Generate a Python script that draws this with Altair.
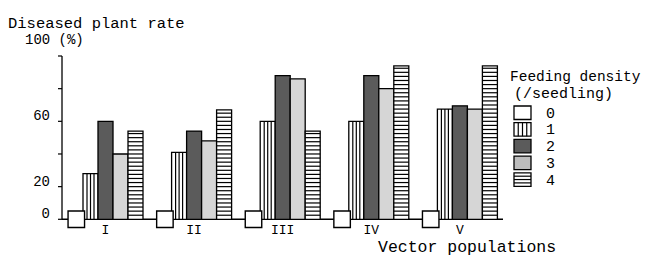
import altair as alt
import pandas as pd

# ---- data ----
groups = ["I", "II", "III", "IV", "V"]
densities = ["0", "1", "2", "3", "4"]
d0 = [0, 0, 0, 0, 0]
d1 = [28, 41, 60, 60, 67.5]
d2 = [60, 54, 88, 88, 69.5]
d3 = [40, 48, 86, 80, 67.5]
d4 = [54, 67, 54, 94, 94]
y_ticks = [0, 20, 40, 60, 80, 100]
y_labels = [0, 20, 60]

# ---- layout constants ----
W, H = 441, 163.3
PITCH = 88.6
BAR_W = 15
FIRST = 21
FONT = "Liberation Mono"
series = [d0, d1, d2, d3, d4]

rows = []
for g, name in enumerate(groups):
    for k in range(5):
        left = g * PITCH + FIRST + (k - 1) * BAR_W
        rows.append(dict(group=name, density=densities[k], value=series[k][g],
                         left=left, right=left + BAR_W, cx=g * PITCH + 14.3,
                         lx=g * PITCH + FIRST + 1.5 * BAR_W))
df = pd.DataFrame(rows)
bars_df = df[df.density != "0"]
zero_df = df[df.density == "0"]
lab_df = zero_df[["group", "lx"]]

# decorative stripe patterns (vertical for density 1, horizontal for density 4)
vrows = []
for _, r in df[df.density == "1"].iterrows():
    for off in (4.0, 7.5, 11.0):
        vrows.append(dict(x=r.left + off, value=r.value))
vdf = pd.DataFrame(vrows)
hrows = []
for _, r in df[df.density == "4"].iterrows():
    lev = 2.5
    while lev < r.value - 1:
        hrows.append(dict(left=r.left, right=r.right, level=lev))
        lev += 2.5
hdf = pd.DataFrame(hrows)

xs = alt.Scale(domain=[0, W], nice=False, zero=False)
ys = alt.Scale(domain=[0, 100], nice=False)
fill_scale = alt.Scale(domain=densities[1:], range=["white", "#5b5b5b", "#d6d6d6", "white"])

one = pd.DataFrame({"a": [0]})

# axes drawn as marks on the shared scales
x_base = alt.Chart(one).mark_rule(color="black", strokeWidth=1.5).encode(
    x=alt.value(0), x2=alt.value(W), y=alt.Y(datum=0, scale=ys, axis=None))
y_dom = alt.Chart(one).mark_rule(color="black", strokeWidth=1.3).encode(
    x=alt.value(0), y=alt.Y(datum=0, scale=ys, axis=None), y2=alt.datum(100))
y_tk = alt.Chart(pd.DataFrame({"v": y_ticks})).mark_rule(color="black", strokeWidth=1.2).encode(
    x=alt.value(-4), x2=alt.value(0), y=alt.Y("v:Q", scale=ys, axis=None))
y_lb = alt.Chart(pd.DataFrame({"v": y_labels})).mark_text(
    font=FONT, fontSize=14, color="black", align="right", baseline="middle", dy=-5).encode(
    x=alt.value(-12), y=alt.Y("v:Q", scale=ys, axis=None), text="v:Q")

bars = alt.Chart(bars_df).mark_rect(stroke="black", strokeWidth=1.3).encode(
    x=alt.X("left:Q", scale=xs, axis=None),
    x2="right:Q",
    y=alt.Y("value:Q", scale=ys, axis=None),
    y2=alt.datum(0),
    fill=alt.Fill("density:N", scale=fill_scale, legend=None),
)

vstripes = alt.Chart(vdf).mark_rule(color="black", strokeWidth=1.2).encode(
    x=alt.X("x:Q", scale=xs, axis=None), y=alt.Y("value:Q", scale=ys, axis=None), y2=alt.datum(0))

hstripes = alt.Chart(hdf).mark_rule(color="black", strokeWidth=1.2).encode(
    x=alt.X("left:Q", scale=xs, axis=None), x2="right:Q", y=alt.Y("level:Q", scale=ys, axis=None))

boxes = alt.Chart(zero_df).mark_square(fill="white", stroke="black", strokeWidth=1.4,
                                       size=272, opacity=1).encode(
    x=alt.X("cx:Q", scale=xs, axis=None), y=alt.Y("value:Q", scale=ys, axis=None))

glabels = alt.Chart(lab_df).mark_text(font=FONT, fontSize=13, color="black", baseline="middle").encode(
    x=alt.X("lx:Q", scale=xs, axis=None), y=alt.value(H + 11), text="group:N")


def txt(s, x, y, size):
    return alt.Chart(pd.DataFrame({"t": [s]})).mark_text(
        font=FONT, fontSize=size, color="black", align="left", baseline="middle").encode(
        x=alt.value(x), y=alt.value(y), text="t:N")


t_title = txt("Diseased plant rate", -54, -33, 15.5)
t_100 = txt("100 (%)", -37, -16, 14)
t_x = txt("Vector populations", 316, 191, 16.5)
t_leg1 = txt("Feeding density", 448, 21, 14.5)
t_leg2 = txt("(/seedling)", 452, 37, 15)

# legend (manual, to show the fill patterns)
LX, LW, LY0, LSTEP, LH = 452, 17, 50, 16.7, 13.5
leg_fill = ["white", "white", "#5b5b5b", "#bdbdbd", "white"]
leg = pd.DataFrame({"density": densities, "fill": leg_fill,
                    "ly": [LY0 + i * LSTEP for i in range(5)]})
leg["ly2"] = leg.ly + LH
leg["lc"] = leg.ly + LH / 2
leg["x1"] = LX
leg["x2"] = LX + LW
leg["xt"] = LX + 32
sw = alt.Chart(leg).mark_rect(stroke="black", strokeWidth=1.3).encode(
    x=alt.X("x1:Q", scale=None), x2="x2:Q",
    y=alt.Y("ly:Q", scale=None), y2="ly2:Q",
    fill=alt.Fill("fill:N", scale=None))
sw_lab = alt.Chart(leg).mark_text(font=FONT, fontSize=15, color="black", align="left",
                                  baseline="middle").encode(
    x=alt.X("xt:Q", scale=None), y=alt.Y("lc:Q", scale=None), text="density:N")

r1 = leg.iloc[1]
r4 = leg.iloc[4]
lv = pd.DataFrame({"x": [LX + 4.25, LX + 8.5, LX + 12.75], "y": [r1.ly] * 3, "y2": [r1.ly2] * 3})
lh = pd.DataFrame({"y": [r4.ly + 3.4, r4.ly + 6.75, r4.ly + 10.1], "x": [LX] * 3, "x2": [LX + LW] * 3})
lv_m = alt.Chart(lv).mark_rule(color="black", strokeWidth=1.2).encode(
    x=alt.X("x:Q", scale=None), y=alt.Y("y:Q", scale=None), y2="y2:Q")
lh_m = alt.Chart(lh).mark_rule(color="black", strokeWidth=1.2).encode(
    x=alt.X("x:Q", scale=None), x2="x2:Q", y=alt.Y("y:Q", scale=None))

chart = alt.layer(
    x_base, y_dom, y_tk, y_lb,
    bars, vstripes, hstripes, boxes, glabels,
    t_title, t_100, t_x, t_leg1, t_leg2,
    sw, lv_m, lh_m, sw_lab,
).properties(
    width=W, height=H, autosize="none",
    padding={"left": 54, "top": 48, "right": 145, "bottom": 40},
    background="white",
).configure_view(stroke=None)

chart.save("out.html", embed_options={"renderer": "svg", "actions": False})
